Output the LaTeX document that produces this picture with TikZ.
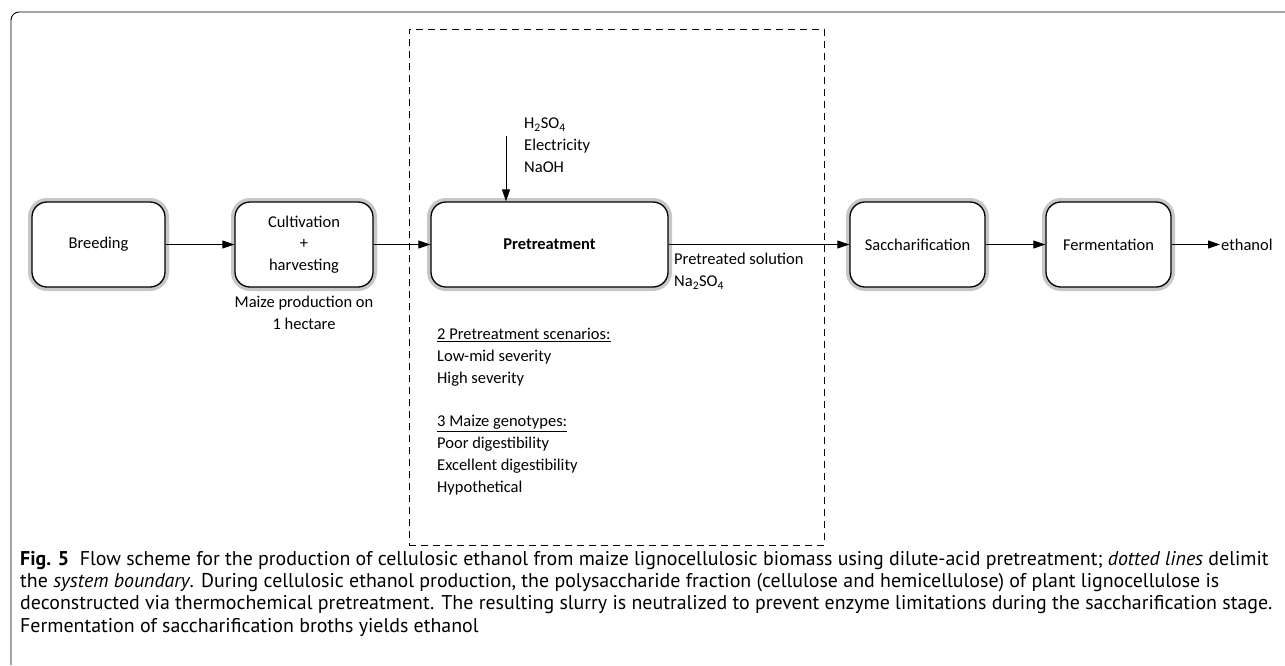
\documentclass[tikz,border=0pt]{standalone}
\usepackage{fontspec}
\setmainfont{Carlito}
\newfontfamily\capfont{PT Sans}
\usetikzlibrary{arrows.meta,positioning}

\begin{document}
\begin{tikzpicture}[
  x=1pt, y=-1pt,
  font=\fontsize{16.5}{21.8}\selectfont,
  every node/.style={align=center},
  stage/.style={draw, line width=1.3pt, fill=white, rounded corners=15pt,
    minimum height=85pt, inner sep=2pt,
    preaction={draw=black!22, line width=8pt}},
  boundary/.style={draw, dashed, dash pattern=on 7pt off 5pt, line width=0.9pt,
    minimum width=415pt, minimum height=516pt, inner sep=0pt},
  flow/.style={-{Triangle[length=12pt,width=8pt]}, line width=0.9pt},
  note/.style={align=left, inner sep=0pt}]

  \useasboundingbox (0,0) rectangle (1285,665);

  % outer frame of the figure
  \draw[line width=0.9pt, rounded corners=8pt] (11,665) -- (11,12) -- (1285,12);

  % system boundary
  \node[boundary] (boundary) at (616.5,287) {};

  % process stages
  \node[stage, minimum width=133pt] (breeding) at (98.5,244.5) {Breeding};
  \node[stage, minimum width=138pt] (cultivation) at (304,244.5) {Cultivation\\+\\harvesting};
  \node[stage, minimum width=237pt] (pretreat) at (549.5,244.5) {\bfseries Pretreatment};
  \node[stage, minimum width=135pt] (saccharif) at (917.5,244.5) {Saccharification};
  \node[stage, minimum width=125pt] (ferment) at (1108.5,244.5) {Fermentation};
  \node[anchor=west, inner sep=1pt] (ethanol) at (1220,244.5) {ethanol};

  % inputs and outputs
  \coordinate (inflow) at (506,136);
  \node[note, anchor=north west] (inputs) at (524,118)
    {H\textsubscript{2}SO\textsubscript{4}\\Electricity\\NaOH};
  \node[note, anchor=north west] (outlabel) at (674,253)
    {Pretreated solution\\Na\textsubscript{2}SO\textsubscript{4}};
  \node[inner sep=0pt, anchor=north] (maize) at (304,296)
    {Maize production on\\1 hectare};
  \node[note, anchor=north west] (scenarios) at (437,328)
    {\underline{2 Pretreatment scenarios:}\\Low-mid severity\\High severity\\[21.8pt]
     \underline{3 Maize genotypes:}\\Poor digestibility\\Excellent digestibility\\Hypothetical};

  % flows between the stages
  \draw[flow] (breeding) -- (cultivation);
  \draw[flow] (cultivation) -- (pretreat);
  \draw[flow] (inflow) -- (inflow |- pretreat.north);
  \draw[flow] (pretreat) -- (saccharif);
  \draw[flow] (saccharif) -- (ferment);
  \draw[flow] (ferment) -- (ethanol);

  % caption
  \node[note, anchor=north west, font=\capfont\fontsize{19.9}{22.3}\selectfont] (caption) at (20,551)
    {\textbf{Fig. 5}\ \ Flow scheme for the production of cellulosic ethanol from maize lignocellulosic biomass using dilute-acid pretreatment; \textit{dotted lines} delimit\\
     the \textit{system boundary}. During cellulosic ethanol production, the polysaccharide fraction (cellulose and hemicellulose) of plant lignocellulose is\\
     deconstructed via thermochemical pretreatment. The resulting slurry is neutralized to prevent enzyme limitations during the saccharification stage.\\
     Fermentation of saccharification broths yields ethanol};

\end{tikzpicture}
\end{document}
